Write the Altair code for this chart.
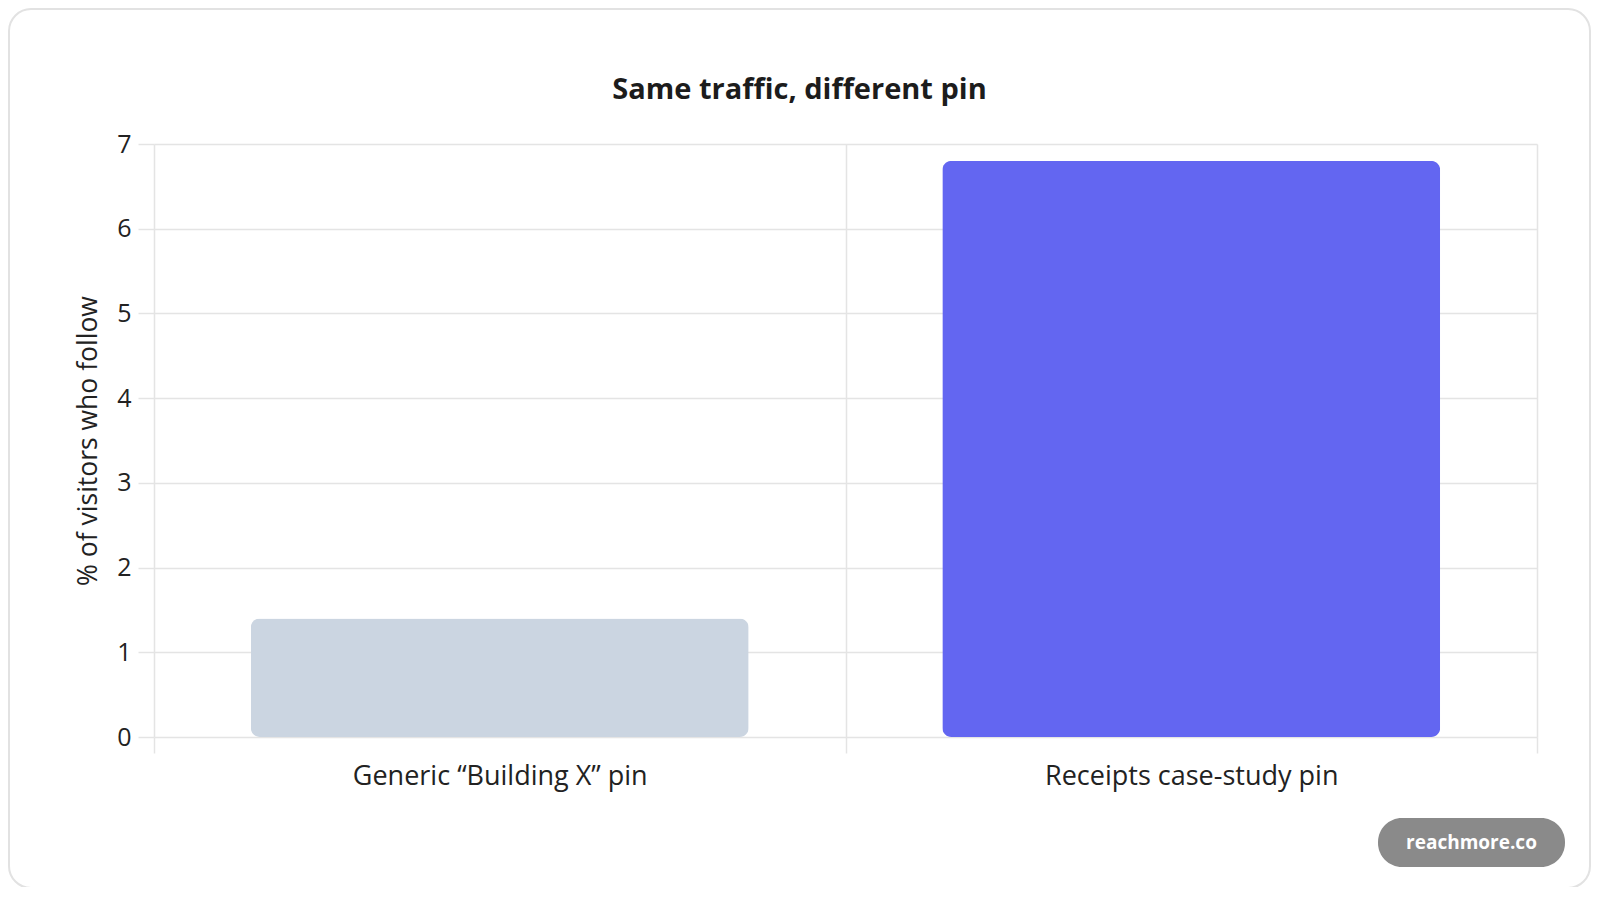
import altair as alt
import pandas as pd

categories = ["Generic \u201cBuilding X\u201d pin", "Receipts case-study pin"]
values = [1.4, 6.8]
bar_colors = ["#CBD5E1", "#6366F1"]
y_ticks = [0, 1, 2, 3, 4, 5, 6, 7]
title_text = "Same traffic, different pin"
y_title = "% of visitors who follow"
badge_text = "reachmore.co"

FONT = "Open Sans"
W, H = 1383, 593

df = pd.DataFrame({"cat": categories, "val": values})

card = alt.Chart(pd.DataFrame({"a": [0]})).mark_rect(
    filled=False, stroke="#e2e2e2", strokeWidth=2, cornerRadius=22
).encode(
    x=alt.value(-145), x2=alt.value(W + 53),
    y=alt.value(-135), y2=alt.value(H + 151),
)

bars = alt.Chart(df).mark_bar(cornerRadius=9, width=alt.RelativeBandSize(0.72)).encode(
    x=alt.X("cat:N", sort=categories,
            scale=alt.Scale(paddingInner=0, paddingOuter=0),
            axis=alt.Axis(title=None, tickBand="extent", grid=True, domain=False,
                          ticks=True, tickSize=16, tickColor="#e4e4e4", tickWidth=1.5,
                          gridColor="#e4e4e4", gridWidth=1.5,
                          labelFont=FONT, labelFontSize=27, labelColor="#222222",
                          labelPadding=10, labelAngle=0, labelLimit=0)),
    y=alt.Y("val:Q", scale=alt.Scale(domain=[0, 7], nice=False),
            axis=alt.Axis(title=y_title, values=y_ticks, domain=False,
                          tickSize=16, tickColor="#e4e4e4", tickWidth=1.5,
                          gridColor="#e4e4e4", gridWidth=1.5,
                          labelFont=FONT, labelFontSize=25, labelColor="#222222",
                          labelPadding=7, titleFont=FONT, titleFontSize=26.5,
                          titleFontWeight="normal", titleColor="#222222",
                          titlePadding=14)),
    color=alt.Color("cat:N", sort=categories,
                    scale=alt.Scale(domain=categories, range=bar_colors), legend=None),
)

title = alt.Chart(pd.DataFrame({"t": [title_text]})).mark_text(
    font=FONT, fontSize=29, fontWeight="bold", color="#1c1c1c",
    align="center", baseline="alphabetic"
).encode(text="t:N", x=alt.value(645.5), y=alt.value(-45))

pill = alt.Chart(pd.DataFrame({"t": [badge_text]})).mark_rect(
    fill="#8a8a8a", cornerRadius=24
).encode(
    x=alt.value(1224), x2=alt.value(1411),
    y=alt.value(674), y2=alt.value(723),
)

badge = alt.Chart(pd.DataFrame({"t": [badge_text]})).mark_text(
    font=FONT, fontSize=19, fontWeight="bold", color="white",
    align="center", baseline="middle"
).encode(
    text="t:N", x=alt.value(1317.5), y=alt.value(699),
)

chart = alt.layer(card, bars, title, pill, badge).properties(
    width=W, height=H,
    padding={"left": 146, "top": 136, "right": 55, "bottom": 150},
    autosize=alt.AutoSizeParams(type="none"),
    background="white",
).configure_view(stroke=None)

chart.save("out.html", embed_options={"renderer": "svg", "actions": False})
